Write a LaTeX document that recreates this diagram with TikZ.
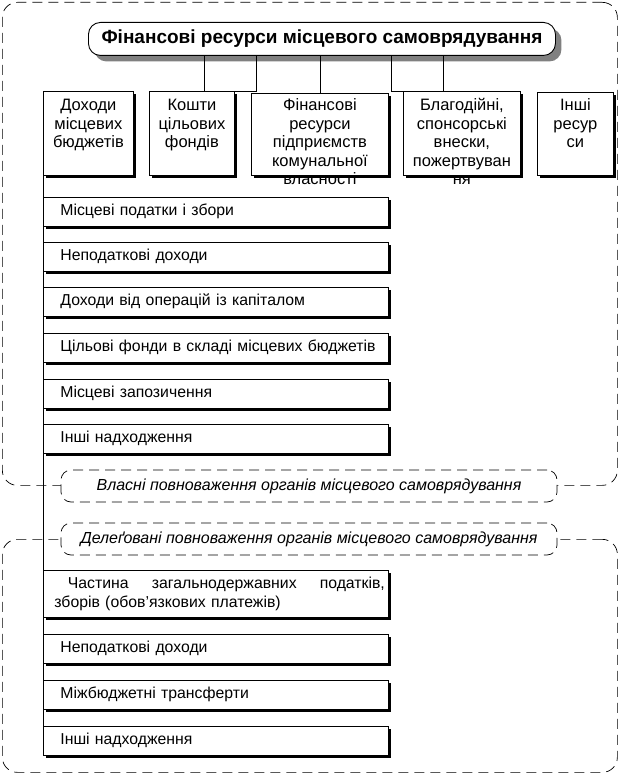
\documentclass[tikz,border=0pt]{standalone}
\usepackage{fontspec}
\setmainfont{Liberation Sans}
\usetikzlibrary{shadows}
\begin{document}
\begin{tikzpicture}[x=1pt,y=-1pt,
  regionframe/.style={draw, dash pattern=on 10pt off 6pt, line width=0.7pt, rounded corners=15pt, inner sep=0pt, anchor=north west, minimum width=615pt},
  labelbox/.style={draw, fill=white, dash pattern=on 10pt off 6pt, line width=0.7pt, rounded corners=10pt, minimum width=496pt, minimum height=32pt, inner sep=0pt, font=\fontsize{16}{18}\selectfont\itshape},
  titlebox/.style={draw, fill=white, line width=0.9pt, rounded corners=12pt, inner sep=0pt, anchor=north west, minimum width=467pt, minimum height=33pt, font=\fontsize{19}{22}\selectfont\bfseries, drop shadow={shadow xshift=6pt, shadow yshift=-6pt, fill=black!50, opacity=1}},
  topbox/.style={draw, fill=white, line width=0.8pt, inner sep=0pt, anchor=north west, drop shadow={shadow xshift=3pt, shadow yshift=-3pt, fill=black, opacity=1}},
  boxtext/.style={inner sep=0pt, anchor=north, align=center, font=\fontsize{16.5}{18.5}\selectfont},
  subbox/.style={draw, fill=white, line width=0.8pt, anchor=north west, minimum width=345pt, minimum height=29pt, text width=328pt, inner xsep=8.5pt, inner ysep=0pt, align=left, text height=11.5pt, text depth=3.5pt, font=\fontsize{15.8}{18.5}\selectfont, execute at begin node={\hspace*{8.5pt}}, drop shadow={shadow xshift=3pt, shadow yshift=-3pt, fill=black, opacity=1}},
  bigsubbox/.style={subbox, minimum height=47pt, text width=323pt, inner xsep=11pt, text height=, text depth=, execute at begin node={}, font=\fontsize{15.8}{19}\selectfont},
  conn/.style={line width=0.8pt}
]
\useasboundingbox (0,0) rectangle (620,775);

% region frames
\node[regionframe, minimum height=483pt] (ownframe) at (2,2) {};
\node[regionframe, minimum height=233pt] (delegframe) at (2,539) {};

% title
\node[titlebox] (title) at (88,22) {Фінансові ресурси місцевого самоврядування};

% top boxes
\node[topbox, minimum width=90pt, minimum height=84pt] (b1) at (43,91) {};
\node[topbox, minimum width=85pt, minimum height=84pt] (b2) at (149,91) {};
\node[topbox, minimum width=137pt, minimum height=82pt] (b3) at (251,93) {};
\node[topbox, minimum width=117pt, minimum height=84pt] (b4) at (403,91) {};
\node[topbox, minimum width=76pt, minimum height=83pt] (b5) at (537,92) {};

% connectors from title
\draw[conn] (title.south -| 204,0) -- (b2.north -| 204,0);
\draw[conn] (title.south -| 256,0) |- (b2.north east);
\draw[conn] (title.south -| b3.north) -- (b3.north);
\draw[conn] (title.south -| 391,0) |- (b4.north west);
\draw[conn] (title.south -| 443,0) -- (b4.north -| 443,0);

% texts in top boxes (top aligned, overflowing as in the original)
\node[boxtext] (t1) at ([yshift=-7pt]b1.north) {\rule{0pt}{12.5pt}Доходи\\місцевих\\бюджетів};
\node[boxtext] (t2) at ([yshift=-7pt]b2.north) {\rule{0pt}{12.5pt}Кошти\\цільових\\фондів};
\node[boxtext] (t3) at ([yshift=-5pt]b3.north) {\rule{0pt}{12.5pt}Фінансові\\ресурси\\підприємств\\комунальної\\власності};
\node[boxtext] (t4) at ([yshift=-7pt]b4.north) {\rule{0pt}{12.5pt}Благодійні,\\спонсорські\\внески,\\пожертвуван\\ня};
\node[boxtext] (t5) at ([yshift=-6pt]b5.north) {\rule{0pt}{12.5pt}Інші\\ресур\\си};

% vertical spine
\draw[conn] (b1.south west) -- (43,740);

% own powers items
\node[subbox] (o1) at (43,197) {Місцеві податки і збори};
\node[subbox] (o2) at (43,242) {Неподаткові доходи};
\node[subbox] (o3) at (43,287) {Доходи від операцій із капіталом};
\node[subbox] (o4) at (43,333) {Цільові фонди в складі місцевих бюджетів};
\node[subbox] (o5) at (43,379) {Місцеві запозичення};
\node[subbox] (o6) at (43,424) {Інші надходження};

% labels
\node[labelbox] (ownlabel) at (309,486) {Власні повноваження органів місцевого самоврядування};
\node[labelbox] (deleglabel) at (309,539) {Делеґовані повноваження органів місцевого самоврядування};

% delegated items
\node[bigsubbox] (d1) at (43,570) {\hspace*{5pt}\hbox to 317pt{Частина\hfill загальнодержавних\hfill податків,}\\зборів (обов'язкових платежів)};
\node[subbox] (d2) at (43,634) {Неподаткові доходи};
\node[subbox] (d3) at (43,680) {Міжбюджетні трансферти};
\node[subbox] (d4) at (43,726) {Інші надходження};
\end{tikzpicture}
\end{document}
